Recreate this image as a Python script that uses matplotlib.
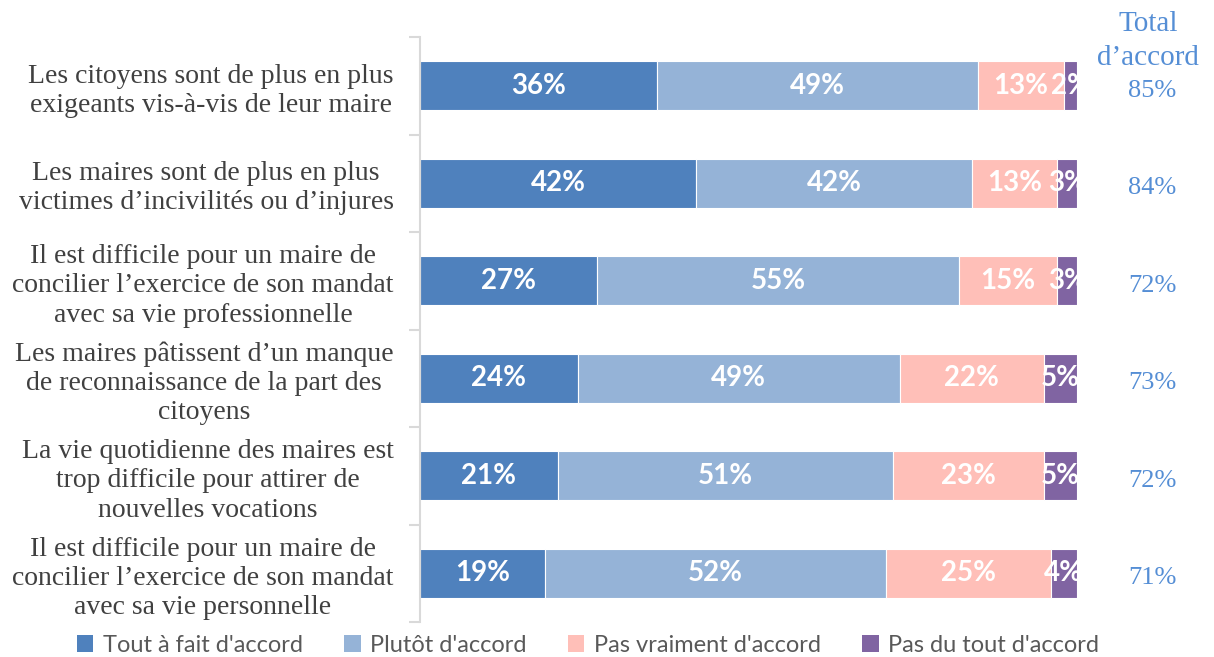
import matplotlib.pyplot as plt
from matplotlib.patches import Patch
from matplotlib.transforms import blended_transform_factory
import numpy as np

categories = [
    "Les citoyens sont de plus en plus\nexigeants vis-à-vis de leur maire",
    "Les maires sont de plus en plus\nvictimes d\u2019incivilités ou d\u2019injures",
    "Il est difficile pour un maire de\nconcilier l\u2019exercice de son mandat\navec sa vie professionnelle",
    "Les maires pâtissent d\u2019un manque\nde reconnaissance de la part des\ncitoyens",
    "La vie quotidienne des maires est\ntrop difficile pour attirer de\nnouvelles vocations",
    "Il est difficile pour un maire de\nconcilier l\u2019exercice de son mandat\navec sa vie personnelle",
]
series_names = ["Tout à fait d'accord", "Plutôt d'accord",
                "Pas vraiment d'accord", "Pas du tout d'accord"]
tout_a_fait = [36, 42, 27, 24, 21, 19]
plutot = [49, 42, 55, 49, 51, 52]
pas_vraiment = [13, 13, 15, 22, 23, 25]
pas_du_tout = [2, 3, 3, 5, 5, 4]
total_accord = [85, 84, 72, 73, 72, 71]

colors = ["#4F81BD", "#95B3D7", "#FFBFB8", "#8064A2"]
text_blue = "#558ED5"
serif = ["Liberation Serif", "DejaVu Serif"]
sans = ["Lato", "DejaVu Sans"]

fig = plt.figure(figsize=(12.14, 6.57), dpi=100)
ax = fig.add_axes([420 / 1214, 1 - 622 / 657, 657 / 1214, 585 / 657])

y = np.arange(len(categories))
left = np.zeros(len(categories))
for vals, col in zip([tout_a_fait, plutot, pas_vraiment, pas_du_tout], colors):
    vals = np.array(vals, dtype=float)
    ax.barh(y, vals, left=left, height=0.5, color=col, edgecolor="white",
            linewidth=0.8)
    for yi, l, v in zip(y, left, vals):
        ax.text(l + v / 2, yi, f"{int(v)}%", ha="center", va="center",
                color="white", fontsize=20, fontweight="bold", family=sans,
                clip_on=True)
    left += vals

ax.set_xlim(0, 100)
ax.set_ylim(len(categories) - 0.5, -0.5)
ax.set_xticks([])
ax.set_yticks(y, categories, multialignment="center", family=serif,
              fontsize=20, color="#404040", linespacing=1.22)
ax.tick_params(axis="y", which="major", length=0, pad=19)
ax.set_yticks(np.arange(-0.5, len(categories)), minor=True)
ax.tick_params(axis="y", which="minor", length=8, width=1.5, color="#D9D9D9")
for s in ["top", "right", "bottom"]:
    ax.spines[s].set_visible(False)
ax.spines["left"].set_color("#D9D9D9")
ax.spines["left"].set_linewidth(1.5)

# totals column on the right
tr = blended_transform_factory(fig.transFigure, ax.transData)
for yi, t in zip(y, total_accord):
    ax.text(1152 / 1214, yi + 0.05, f"{t}%", transform=tr, ha="center",
            va="center", color=text_blue, fontsize=19, family=serif)
fig.text(1148 / 1214, 1 - 41 / 657, "Total\nd\u2019accord", ha="center",
         va="center", color=text_blue, fontsize=21, family=serif,
         linespacing=1.38)

handles = [Patch(facecolor=c, edgecolor="none") for c in colors]
fig.legend(handles, series_names, loc="center", bbox_to_anchor=(588 / 1214, 1 - 645 / 657),
           ncol=4, frameon=False, prop={"family": sans, "size": 17},
           labelcolor="#595959", handlelength=0.7, handleheight=0.7,
           handletextpad=0.4, columnspacing=1.75, borderaxespad=0)

fig.savefig("out.png", dpi=100)
